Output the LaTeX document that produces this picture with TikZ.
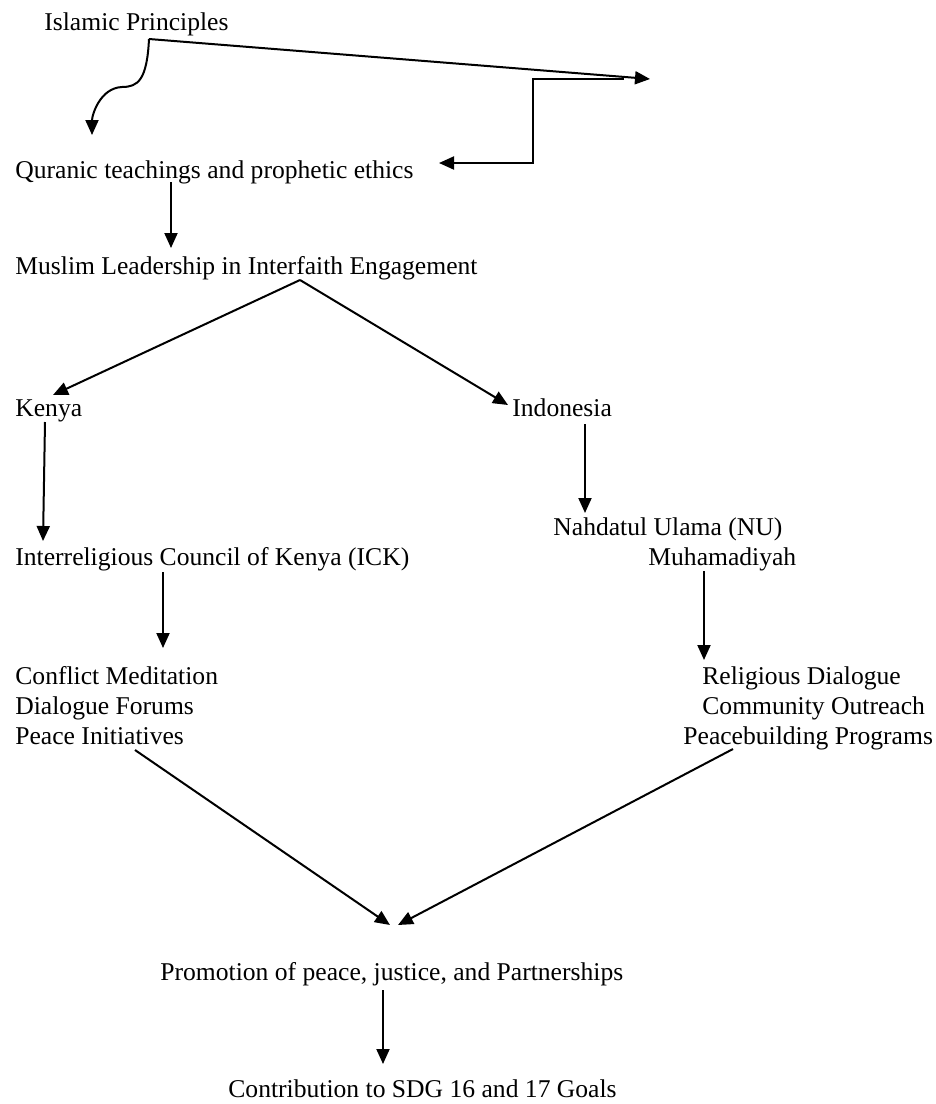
\documentclass[tikz,border=0pt]{standalone}
\usepackage{fontspec}
\setmainfont{Liberation Serif}
\usetikzlibrary{calc,arrows.meta}
\tikzset{>={Triangle[length=7.5pt,width=6.5pt]}}

\begin{document}
\begin{tikzpicture}[x=0.5pt,y=-0.5pt,
  lbl/.style={anchor=base west,inner sep=0pt,align=left,font=\fontsize{12.8}{15}\selectfont},
  arr/.style={->,line width=1pt}]
\useasboundingbox (0,0) rectangle (936,1104);
% texts
\node[lbl] (isl) at (44,30) {Islamic Principles};
\node[lbl] (qur) at (15,178) {Quranic teachings and prophetic ethics};
\node[lbl] (mus) at (15,274) {Muslim Leadership in Interfaith Engagement};
\node[lbl] (ken) at (15,416) {Kenya};
\node[lbl] (ind) at (512,416) {Indonesia};
\node[lbl] (ick) at (15,565) {Interreligious Council of Kenya (ICK)};
\node[lbl] (nu) at (553,565) {Nahdatul Ulama (NU)\\\hspace*{47.5pt}Muhamadiyah};
\node[lbl] (con) at (15,744) {Conflict Meditation\\Dialogue Forums\\Peace Initiatives};
\node[lbl] (rel) at (683,744) {\hspace*{9.5pt}Religious Dialogue\\\hspace*{9.5pt}Community Outreach\\Peacebuilding Programs};
\node[lbl] (pro) at (160,980) {Promotion of peace, justice, and Partnerships};
\node[lbl] (sdg) at (228,1097) {Contribution to SDG 16 and 17 Goals};
\coordinate (blank) at (650,79);
% top arrows
\draw[arr] ($(isl.base west)+(105,9)$) .. controls +(-2,41) and +(16,0) .. ($(isl.base west)+(78,57)$)
  .. controls +(-22,1) and +(0,-20) .. ($(qur.base west)+(77,-43)$);
\draw[arr] ($(isl.base west)+(105,9)$) -- (blank);
\draw[arr] ($(blank)+(-26,0)$) -| ($(qur.base west)+(518,-15)$) -- ($(qur.base west)+(424,-15)$);
% main flow
\draw[arr] ($(qur.base west)+(156,4)$) -- ($(mus.base west)+(156,-26)$);
\draw[arr] ($(mus.base west)+(285,6)$) -- ($(ken.base west)+(38,-21)$);
\draw[arr] ($(mus.base west)+(285,6)$) -- ($(ind.base west)+(-4,-11)$);
\draw[arr] ($(ken.base west)+(30,6)$) -- ($(ick.base west)+(28,-24)$);
\draw[arr] ($(ind.base west)+(73,8)$) -- ($(nu.base west)+(32,-52)$);
\draw[arr] ($(ick.base west)+(148,7)$) -- ($(con.base west)+(148,-96)$);
\draw[arr] ($(nu.base west)+(151,6)$) -- ($(rel.base west)+(21,-84)$);
\draw[arr] ($(con.base west)+(120,6)$) -- ($(pro.base west)+(230,-55)$);
\draw[arr] ($(rel.base west)+(50,5)$) -- ($(pro.base west)+(238,-55)$);
\draw[arr] ($(pro.base west)+(223,10)$) -- ($(sdg.base west)+(155,-33)$);
\end{tikzpicture}
\end{document}
